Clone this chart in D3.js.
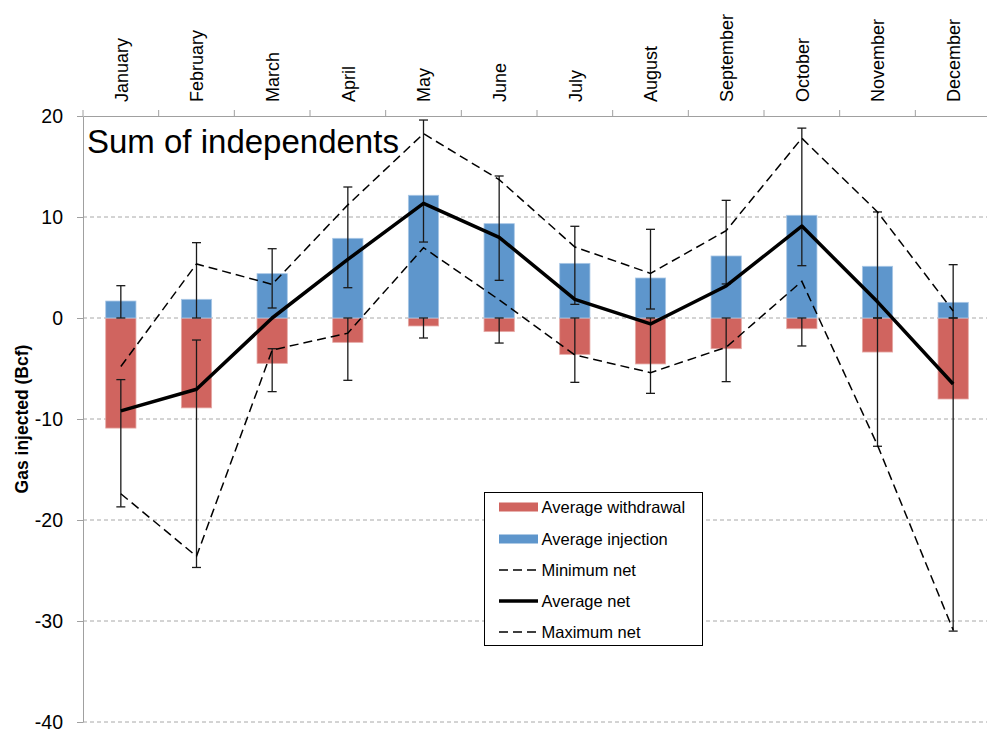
<!DOCTYPE html>
<html>
<head>
<meta charset="utf-8">
<script src="https://cdn.jsdelivr.net/npm/d3@7"></script>
<style>
  html, body { margin: 0; padding: 0; background: #fff; }
  svg { display: block; font-family: "Liberation Sans", Arial, sans-serif; }
</style>
</head>
<body>
<svg id="chart" width="987" height="736"></svg>
<script>
// ---------- data ----------
const months = ["January","February","March","April","May","June","July","August","September","October","November","December"];
const injection  = [1.68, 1.85, 4.39, 7.89, 12.15, 9.34, 5.41, 3.96, 6.14, 10.17, 5.12, 1.55];
const withdrawal = [-10.9, -8.9, -4.49, -2.41, -0.79, -1.35, -3.6, -4.55, -3.04, -1.06, -3.37, -8.02];
const avgNet = [-9.2, -7.06, 0.0, 5.8, 11.35, 7.99, 1.85, -0.59, 3.17, 9.1, 1.6, -6.53];
const minNet = [-17.4, -23.6, -3.17, -1.5, 6.96, 1.8, -3.66, -5.41, -2.9, 3.63, -12.6, -30.9];
const maxNet = [-4.8, 5.35, 3.33, 11.2, 18.25, 13.7, 7.03, 4.42, 8.65, 17.8, 10.5, 0.7];
const injErrLow  = [0, 0, 0.99, 3.0, 7.52, 3.73, 1.35, 0.89, 3.37, 5.18, 0, 0];
const injErrHigh = [3.2, 7.46, 6.86, 12.97, 19.6, 14.06, 9.08, 8.78, 11.65, 18.8, 10.5, 5.28];
const wdErrHigh  = [-6.1, -2.18, -3.04, 0, 0, 0, 0, 0, 0, 0, 0, 0];
const wdErrLow   = [-18.7, -24.7, -7.29, -6.17, -1.98, -2.48, -6.37, -7.46, -6.3, -2.77, -12.7, -31.0];
const yTicks = [-40, -30, -20, -10, 0, 10, 20];
const yTickLabels = ["-40", "-30", "-20", "-10", "0", "10", "20"];
const titleText = "Sum of independents";
const yAxisTitle = "Gas injected (Bcf)";
const legendLabels = ["Average withdrawal", "Average injection", "Minimum net", "Average net", "Maximum net"];
const legendTypes = ["rect", "rect", "dash", "solid", "dash"];

// ---------- layout ----------
const plotLeft = 83, plotRight = 991, plotTop = 116, plotBottom = 722;
const svg = d3.select("#chart");
const x = d3.scaleBand().domain(months).range([plotLeft, plotRight]).padding(0);
const y = d3.scaleLinear().domain([-40, 20]).range([plotBottom, plotTop]);
const barW = x.bandwidth() * 0.4;
const cx = m => x(m) + x.bandwidth() / 2;
const axisColor = "#a0a0a0";
const red = "#D0645F", blue = "#5E96CC";
const legendColors = [red, blue, null, null, null];

// grid lines (dashed)
svg.append("g").selectAll("line")
  .data(yTicks.filter(t => t < 20))
  .join("line")
  .attr("x1", plotLeft).attr("x2", plotRight)
  .attr("y1", d => y(d)).attr("y2", d => y(d))
  .attr("stroke", "#a8a8a8").attr("stroke-width", 1)
  .attr("stroke-dasharray", "4,3");

// left axis
const yAxis = svg.append("g")
  .attr("transform", `translate(${plotLeft},0)`)
  .call(d3.axisLeft(y).tickValues(yTicks).tickSize(6).tickSizeOuter(0).tickPadding(14)
    .tickFormat(d => yTickLabels[yTicks.indexOf(d)]));
yAxis.select(".domain").attr("stroke", axisColor);
yAxis.selectAll(".tick line").attr("stroke", axisColor);
yAxis.selectAll(".tick text")
  .attr("font-size", 19.5).attr("fill", "#000")
  .attr("font-family", "Liberation Sans, Arial, sans-serif");

// top axis
const xAxis = svg.append("g")
  .attr("transform", `translate(0,${plotTop})`)
  .call(d3.axisTop(x).tickSize(0).tickSizeOuter(0).tickPadding(0));
xAxis.select(".domain").attr("stroke", axisColor);
xAxis.selectAll(".tick text")
  .attr("font-size", 18).attr("fill", "#000")
  .attr("font-family", "Liberation Sans, Arial, sans-serif")
  .attr("text-anchor", "start")
  .attr("transform", "translate(0,-14) rotate(-90)")
  .attr("x", 0).attr("y", 0).attr("dy", "0.38em");
// boundary ticks on top axis
svg.append("g").selectAll("line")
  .data(months)
  .join("line")
  .attr("x1", d => x(d)).attr("x2", d => x(d))
  .attr("y1", plotTop).attr("y2", plotTop - 6)
  .attr("stroke", axisColor);

// bars
const barG = svg.append("g");
barG.selectAll("rect.wd")
  .data(months)
  .join("rect")
  .attr("class", "wd")
  .attr("x", d => cx(d) - barW / 2)
  .attr("width", barW)
  .attr("y", y(0))
  .attr("height", (d, i) => y(withdrawal[i]) - y(0))
  .attr("fill", red)
  .attr("stroke", "#e6a9a6").attr("stroke-width", 0.8);
barG.selectAll("rect.inj")
  .data(months)
  .join("rect")
  .attr("class", "inj")
  .attr("x", d => cx(d) - barW / 2)
  .attr("width", barW)
  .attr("y", (d, i) => y(injection[i]))
  .attr("height", (d, i) => y(0) - y(injection[i]))
  .attr("fill", blue)
  .attr("stroke", "#a9c7e6").attr("stroke-width", 0.8);

// error bars
const errG = svg.append("g").attr("stroke", "#1a1a1a").attr("stroke-width", 1.3);
function errBar(lo, hi) {
  months.forEach((m, i) => {
    const xc = cx(m);
    errG.append("line").attr("x1", xc).attr("x2", xc).attr("y1", y(lo[i])).attr("y2", y(hi[i]));
    [lo[i], hi[i]].forEach(v => {
      errG.append("line").attr("x1", xc - 4.5).attr("x2", xc + 4.5).attr("y1", y(v)).attr("y2", y(v));
    });
  });
}
errBar(injErrLow, injErrHigh);
errBar(wdErrLow, wdErrHigh);

// lines
const lineGen = vals => d3.line().x((d, i) => cx(months[i])).y(d => y(d))(vals);
svg.append("path").attr("d", lineGen(minNet))
  .attr("fill", "none").attr("stroke", "#000").attr("stroke-width", 1.5).attr("stroke-dasharray", "9,5");
svg.append("path").attr("d", lineGen(maxNet))
  .attr("fill", "none").attr("stroke", "#000").attr("stroke-width", 1.5).attr("stroke-dasharray", "9,5");
svg.append("path").attr("d", lineGen(avgNet))
  .attr("fill", "none").attr("stroke", "#000").attr("stroke-width", 3.5).attr("stroke-linejoin", "round");

// chart title
svg.append("text")
  .attr("x", 87).attr("y", 152.5)
  .attr("font-size", 33).attr("fill", "#000")
  .text(titleText);

// y-axis title
svg.append("text")
  .attr("transform", `translate(28,${(plotTop + plotBottom) / 2}) rotate(-90)`)
  .attr("text-anchor", "middle")
  .attr("font-size", 17.5).attr("font-weight", "bold").attr("fill", "#000")
  .text(yAxisTitle);

// legend
const lg = svg.append("g");
lg.append("rect")
  .attr("x", 484.5).attr("y", 492.5).attr("width", 218).attr("height", 153)
  .attr("fill", "#fff").attr("stroke", "#000").attr("stroke-width", 1);
const rowY = [507, 539, 570, 601, 632];
legendLabels.forEach((label, i) => {
  const yy = rowY[i];
  const type = legendTypes[i];
  if (type === "rect") {
    lg.append("rect").attr("x", 499).attr("y", yy - 4.5).attr("width", 39).attr("height", 9).attr("fill", legendColors[i]);
  } else {
    lg.append("line").attr("x1", 499).attr("x2", 538).attr("y1", yy).attr("y2", yy)
      .attr("stroke", "#000")
      .attr("stroke-width", type === "solid" ? 3.5 : 1.5)
      .attr("stroke-dasharray", type === "dash" ? "9,5" : null);
  }
  lg.append("text").attr("x", 541.5).attr("y", yy).attr("dy", "0.36em")
    .attr("font-size", 16.5).attr("fill", "#000").text(label);
});
</script>
</body>
</html>
